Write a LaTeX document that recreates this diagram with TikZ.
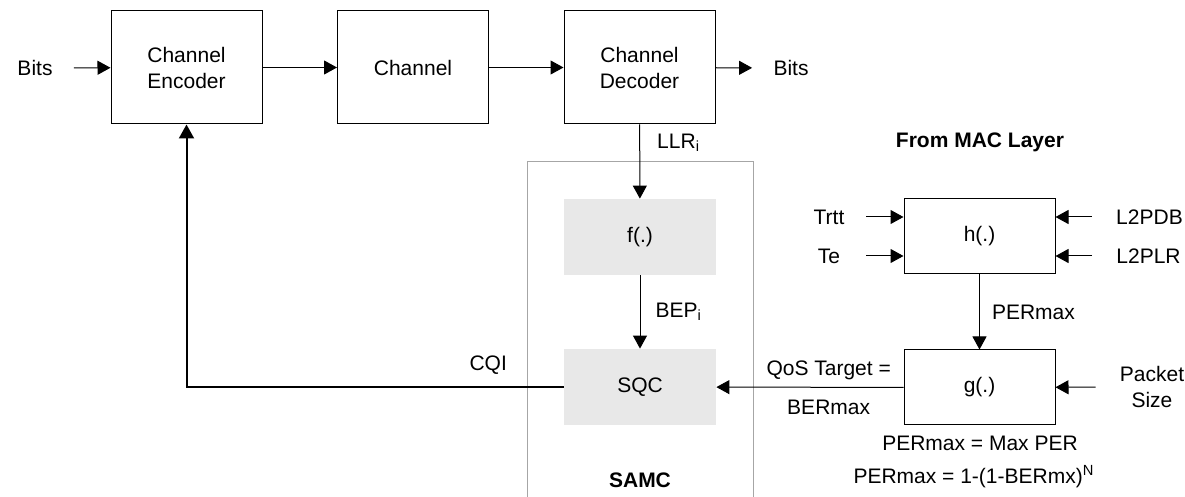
\documentclass[tikz,border=0pt]{standalone}
\usepackage{fontspec}
\setmainfont{Liberation Sans}
\usetikzlibrary{arrows.meta}
\usetikzlibrary{calc}

\tikzset{
	blk/.style  = {draw, line width=0.5pt, minimum width=75.5pt, minimum height=56.5pt, align=center, inner sep=0pt},
	fun/.style  = {draw, line width=0.5pt, minimum width=75.5pt, minimum height=37.5pt, inner sep=0pt},
	samc/.style = {fill=black!9, minimum width=76pt, minimum height=38pt, inner sep=0pt},
	lin/.style  = {inner xsep=10.5pt, inner ysep=0pt, align=center},
	rin/.style  = {inner xsep=12pt, inner ysep=0pt, align=center},
	txt/.style  = {inner sep=0pt, align=center},
	arr/.style  = {line width=0.5pt, -{Triangle[length=6.5pt, width=7pt]}},
	fbarr/.style = {line width=1pt, -{Triangle[length=7pt, width=7.5pt]}},
}

\begin{document}
\begin{tikzpicture}[x=0.5pt, y=-0.5pt, font=\fontsize{10.5}{13}\selectfont]

	% ------------------------------------------------
	% Ensure the dimensions of graphic are appropriate
	\useasboundingbox (0,0) rectangle (1185,497);

	% ------------------------------------------------
	% SAMC frame (runs off the bottom)
	\draw[black!35, line width=0.5pt] (527,497) -- (527,162) -- (753,162) -- (753,497);
	\node[txt, font=\fontsize{10.5}{13}\selectfont\bfseries] (SAMCLbl) at (640,480) {SAMC};

	% ----------------
	% Main chain
	\node[blk] (EncBox)  at (186.5,67.5) {Channel\\Encoder};
	\node[blk] (ChanBox) at (413,67.5)   {Channel};
	\node[blk] (DecBox)  at (639.5,67.5) {Channel\\Decoder};

	\node[lin] (BitsIn)  at (35,68)  {Bits};
	\node[lin] (BitsOut) at (791,68) {Bits};

	% ----------------
	% SAMC blocks
	\node[samc] (FBox)   at (640,237) {f(.)};
	\node[samc] (SQCBox) at (640,387) {SQC};

	% ----------------
	% MAC side
	\node[txt, font=\fontsize{10.5}{13}\selectfont\bfseries] (MACLbl) at (980,142) {From MAC Layer};

	\node[fun] (HBox) at (979.5,236.5) {h(.)};
	\node[fun] (GBox) at (979.5,387.5) {g(.)};

	\node[lin, text width=16pt] (Trtt) at (829,217) {Trtt};
	\node[lin, text width=16pt] (Te)   at (829,256) {Te};
	\node[rin] (L2PDB)  at (1149.5,217) {L2PDB};
	\node[rin] (L2PLR)  at (1148.5,256) {L2PLR};
	\node[rin] (PktSz)  at (1152,387)   {Packet\\Size};

	\node[txt] (MaxEq) at (980,443) {PERmax = Max PER};
	\node[txt] (PerEq) at (974,477) {PERmax = 1-(1-BERmx)\textsuperscript{N}};

	%%%%%%%%%%%%%%%%%%%%%%%%%%%%%%%%%%%%%%%%%
	% Connectors
	\draw[arr] (BitsIn) -- (EncBox);
	\draw[arr] (EncBox) -- (ChanBox);
	\draw[arr] (ChanBox) -- (DecBox);
	\draw[arr] (DecBox) -- (BitsOut);

	\draw[arr] (DecBox) -- node[txt, right=8.5pt, pos=0.25] {LLR\textsubscript{i}} (FBox);
	\draw[arr] (FBox) -- node[txt, right=7.5pt, pos=0.5] {BEP\textsubscript{i}} (SQCBox);

	\draw[arr] (Trtt) -- (HBox.west |- Trtt);
	\draw[arr] (Te) -- (HBox.west |- Te);
	\draw[arr] (L2PDB) -- (HBox.east |- L2PDB);
	\draw[arr] (L2PLR) -- (HBox.east |- L2PLR);
	\draw[arr] (PktSz) -- (GBox);

	\draw[arr] (HBox) -- node[txt, right=6pt, pos=0.5] {PERmax} (GBox);

	\draw[arr] (GBox) -- node[txt, above=3.5pt, pos=0.4] {QoS Target =}
		node[txt, below=6pt, pos=0.4] {BERmax} (SQCBox);

	\draw[fbarr] (SQCBox) -- node[txt, above=6pt, pos=0.2] {CQI}
		(EncBox.south |- SQCBox) -- (EncBox);

\end{tikzpicture}
\end{document}
